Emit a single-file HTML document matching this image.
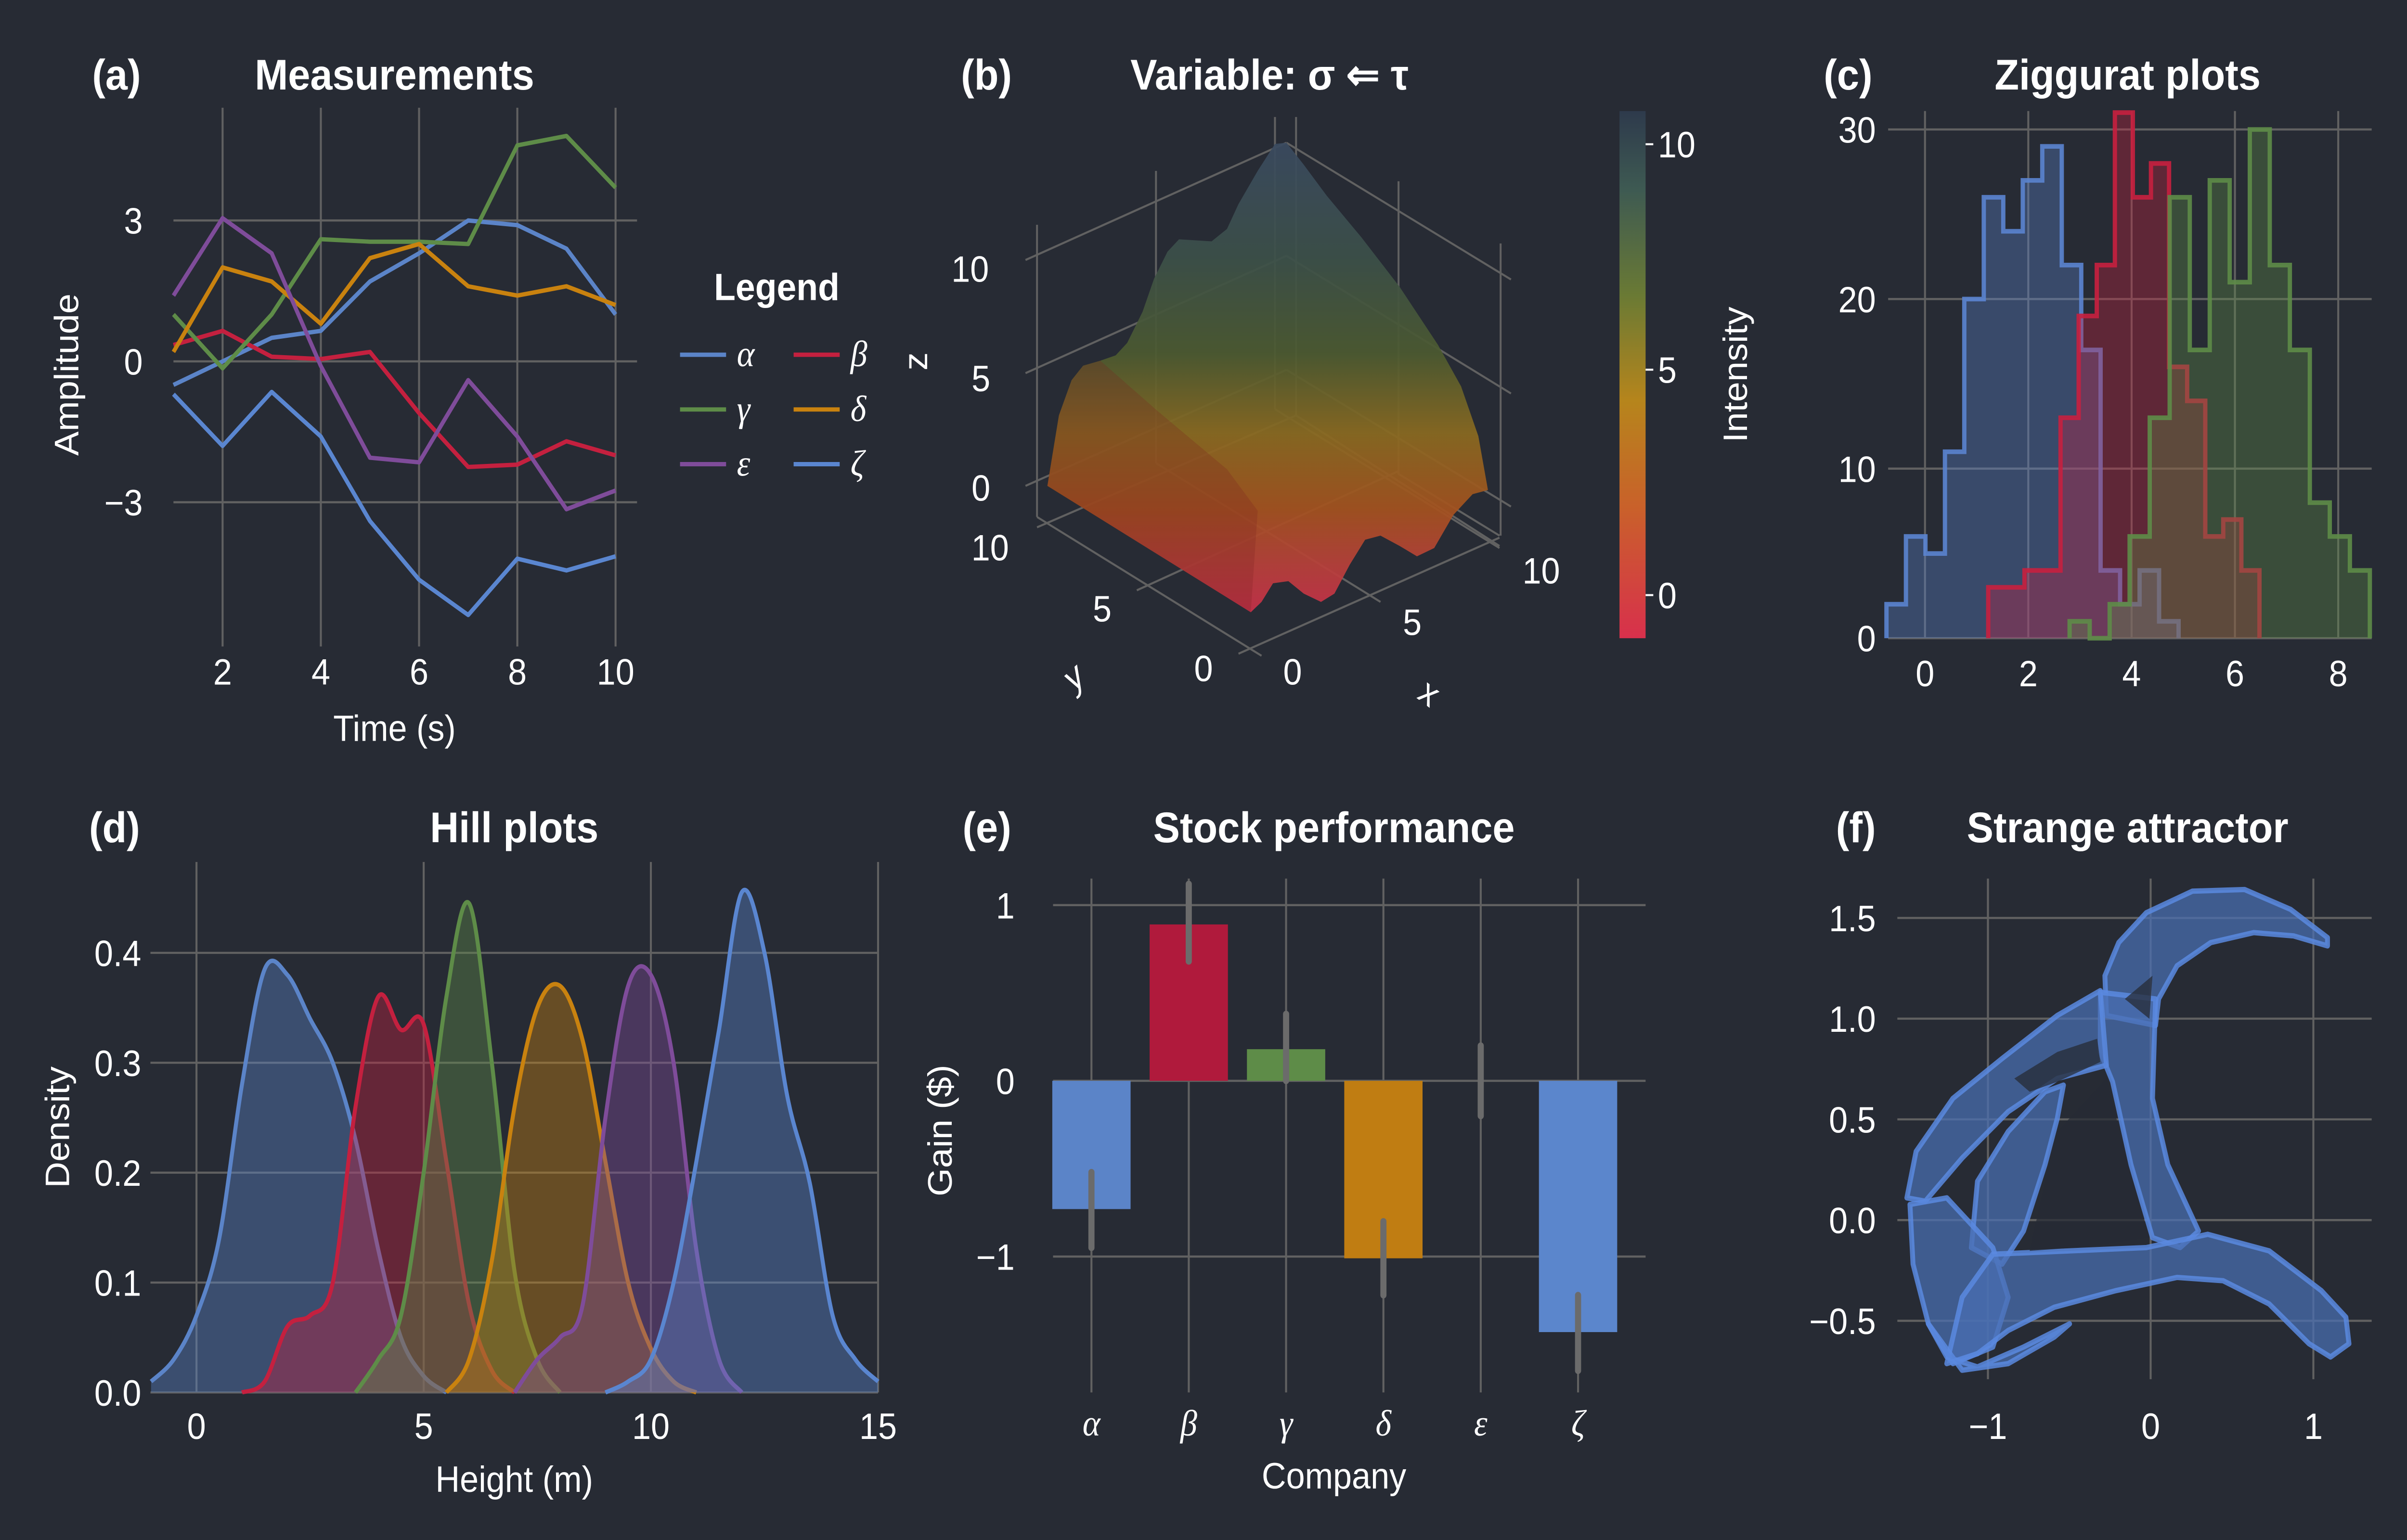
<!DOCTYPE html>
<html><head><meta charset="utf-8"><style>
html,body{margin:0;padding:0;background:#272b34;overflow:hidden;width:100%;height:100%;}
svg{display:block;position:absolute;left:0;top:0;width:100vw;height:100vh;}
text{font-family:"Liberation Sans",sans-serif;fill:#fff;}
text.serif{font-family:"Liberation Serif",serif;font-style:italic;}
</style></head><body>
<svg id="fig" xmlns="http://www.w3.org/2000/svg" viewBox="0 0 1568 929" preserveAspectRatio="none">
<rect x="0" y="0" width="1568" height="929" fill="#272b34"/>
<defs>
<linearGradient id="cbar" x1="0" y1="1" x2="0" y2="0">
<stop offset="0" stop-color="#d8304c"/><stop offset="0.25" stop-color="#c9612a"/><stop offset="0.45" stop-color="#b6851c"/><stop offset="0.65" stop-color="#6a7a34"/><stop offset="0.85" stop-color="#3e5a52"/><stop offset="1" stop-color="#2e3a4c"/>
</linearGradient>
<linearGradient id="surfg" gradientUnits="userSpaceOnUse" x1="0" y1="110" x2="0" y2="1245">
<stop offset="0" stop-color="#3a4a60"/><stop offset="0.25" stop-color="#3c5048"/><stop offset="0.45" stop-color="#4c5a30"/><stop offset="0.62" stop-color="#8a6a20"/><stop offset="0.78" stop-color="#a4521e"/><stop offset="0.9" stop-color="#b8403a"/><stop offset="1" stop-color="#c8304a"/>
</linearGradient>
</defs>

<g font-weight="bold" font-size="26">
<text x="60" y="54">(a)</text>
<text x="257" y="54" text-anchor="middle">Measurements</text>
<text x="626" y="54">(b)</text>
<text x="827" y="54" text-anchor="middle">Variable: σ ⇐ τ</text>
<text x="1188" y="54">(c)</text>
<text x="1386" y="54" text-anchor="middle">Ziggurat plots</text>
<text x="58" y="508">(d)</text>
<text x="335" y="508" text-anchor="middle">Hill plots</text>
<text x="627" y="508">(e)</text>
<text x="869" y="508" text-anchor="middle">Stock performance</text>
<text x="1196" y="508">(f)</text>
<text x="1386" y="508" text-anchor="middle">Strange attractor</text>
</g>

<g id="pa"></g>
<g id="pb"></g>
<g id="pc"></g>
<g id="pd"></g>
<g id="pe"></g>
<g id="pf"></g>
</svg>
<script>
// ===== Panel (a) data =====
const aTimes = [1,2,3,4,5,6,7,8,9,10];
const aAlpha = [-0.5,0.0,0.5,0.65,1.7,2.3,3.0,2.9,2.4,1.0];
const aBeta  = [0.35,0.65,0.1,0.05,0.2,-1.1,-2.25,-2.2,-1.7,-2.0];
const aGamma = [1.0,-0.15,1.0,2.6,2.55,2.55,2.5,4.6,4.8,3.7];
const aDelta = [0.2,2.0,1.7,0.8,2.2,2.5,1.6,1.4,1.6,1.2];
const aEps   = [1.4,3.05,2.3,-0.1,-2.05,-2.15,-0.4,-1.6,-3.15,-2.75];
const aZeta  = [-0.7,-1.8,-0.65,-1.6,-3.4,-4.65,-5.4,-4.2,-4.45,-4.15];
const aXTicks = [2,4,6,8,10];
const aYTicks = [3,0,-3];
const aYTickLabels = ["3","0","\u22123"];
// ===== Panel (b) colorbar ticks =====
const bCbTicks = [10,5,0];
// ===== Panel (c) data =====
const cBlueStart = -0.746, cBlueWidth = 0.377;
const cBlueCounts = [2,6,5,11,20,26,24,27,29,22,17,4,2,4,1];
const cRedStart = 1.225, cRedWidth = 0.35;
const cRedCounts = [3,3,4,4,13,19,22,31,26,28,16,14,6,7,4];
const cGreenStart = 2.80, cGreenWidth = 0.3875;
const cGreenCounts = [1,0,2,6,13,26,17,27,21,30,22,17,8,6,4];
const cXTicks = [0,2,4,6,8];
const cYTicks = [0,10,20,30];
// ===== Panel (d) data (density sampled every 0.5 m) =====
const dStarts = [-1,1.0,3.5,5.5,7.0,9.0];
const dBlue1  = [0.01,0.03,0.07,0.14,0.28,0.385,0.38,0.34,0.30,0.23,0.13,0.05,0.015,0.0];
const dRed    = [0.0,0.01,0.06,0.07,0.10,0.26,0.36,0.33,0.335,0.21,0.08,0.02,0.0];
const dGreen  = [0.0,0.03,0.07,0.20,0.36,0.445,0.30,0.11,0.03,0.0];
const dOrange = [0.0,0.03,0.12,0.26,0.35,0.37,0.32,0.21,0.10,0.04,0.01,0.0];
const dPurple = [0.0,0.03,0.05,0.08,0.25,0.37,0.38,0.30,0.13,0.03,0.0];
const dBlue2  = [0.0,0.01,0.03,0.10,0.21,0.33,0.455,0.40,0.27,0.19,0.07,0.03,0.01];
const dXTicks = [0,5,10,15];
const dYTicks = [0.0,0.1,0.2,0.3,0.4];
// ===== Panel (e) data =====
const eCompanies = ["\u03b1","\u03b2","\u03b3","\u03b4","\u03b5","\u03b6"];
const eGains = [-0.73,0.89,0.18,-1.01,0.0,-1.43];
const eErrLo = [-0.95,0.68,0.0,-1.22,-0.2,-1.65];
const eErrHi = [-0.52,1.12,0.38,-0.80,0.2,-1.22];
const eYTicks = [1,0,-1];
const eYTickLabels = ["1","0","\u22121"];
// ===== Panel (f) ticks =====
const fXTicks = [-1,0,1];
const fXTickLabels = ["\u22121","0","1"];
const fYTicks = [1.5,1.0,0.5,0.0,-0.5];
const fYTickLabels = ["1.5","1.0","0.5","0.0","\u22120.5"];

const NS = "http://www.w3.org/2000/svg";
function mk(parent, tag, attrs, text){
  const e = document.createElementNS(NS, tag);
  for (const k in attrs) e.setAttribute(k, attrs[k]);
  if (text !== undefined) e.textContent = text;
  parent.appendChild(e);
  return e;
}
const GRID = "#616161";

// ---------- Panel A ----------
(function(){
  const g = document.getElementById('pa');
  const X = t => 145 + (t-2)*32;
  const Y = v => 218 - v*28.33;
  aXTicks.forEach(t=>{
    const l = mk(g,'line',{x1:X(t),x2:X(t),y1:65,y2:390,stroke:GRID,'stroke-width':1.3});
     
    const tx = mk(g,'text',{x:X(t),y:413,'text-anchor':'middle','font-size':22},String(t));
     
  });
  aYTicks.forEach((v,i)=>{
    const l = mk(g,'line',{x1:113,x2:415,y1:Y(v),y2:Y(v),stroke:GRID,'stroke-width':1.3});
     
    const tx = mk(g,'text',{x:93,y:Y(v)+8,'text-anchor':'end','font-size':22},aYTickLabels[i]);
     
  });
  const xl = mk(g,'text',{x:257,y:447,'text-anchor':'middle','font-size':22},'Time (s)');
   
  const yl = mk(g,'text',{x:0,y:0,'text-anchor':'middle','font-size':22,transform:'translate(51,226) rotate(-90)'},'Amplitude');
   
  const series = [[aAlpha,'#5b84c8','alpha'],[aBeta,'#c4203f','beta'],[aGamma,'#5e8c48','gamma'],[aDelta,'#c9820f','delta'],[aEps,'#7f4c9a','epsilon'],[aZeta,'#5a86d0','zeta']];
  series.forEach(s=>{
    const d = s[0].map((v,i)=>(i?'L':'M')+X(aTimes[i]).toFixed(1)+','+Y(v).toFixed(1)).join(' ');
    const p = mk(g,'path',{d:d,fill:'none',stroke:s[1],'stroke-width':2.6,'stroke-linejoin':'round'});
     
  });
  const lt = mk(g,'text',{x:506,y:181,'text-anchor':'middle','font-size':23,'font-weight':'bold'},'Legend');
   
  const leg = [['\u03b1','#5b84c8',443,214],['\u03b2','#c4203f',517,214],['\u03b3','#5e8c48',443,247],['\u03b4','#c9820f',517,247],['\u03b5','#7f4c9a',443,280],['\u03b6','#5a86d0',517,280]];
  leg.forEach(e=>{
    const l = mk(g,'line',{x1:e[2],x2:e[2]+30,y1:e[3],y2:e[3],stroke:e[1],'stroke-width':2.6});
     
    const t = mk(g,'text',{x:e[2]+37,y:e[3]+7,'font-size':22,'class':'serif'},e[0]);
     
  });
})();

// ---------- Panel B ----------
(function(){
  const g = document.getElementById('pb');
  const z = mk(g,'g',{transform:'translate(624.3,58.1) scale(0.25)'});
   
  const gl = [
    [175,395,855,112],[855,112,1440,442],[175,668,855,385],[855,385,1440,717],[175,940,855,660],[855,660,1440,990],
    [205,310,205,1015],[515,180,515,885],[825,50,825,755],[880,50,880,770],[1147,205,1147,910],[1413,355,1413,1060],
    [205,1015,790,1350],[730,1345,1410,1065],[515,885,1100,1220],[825,755,1410,1090],[205,1040,880,770],[465,1192,1145,905],[880,770,1410,1085],[1145,910,1410,1060]
  ];
  gl.forEach(c=>{
    const l = mk(z,'line',{x1:c[0],y1:c[1],x2:c[2],y2:c[3],stroke:GRID,'stroke-width':5});
     
  });
  const pts = "232,940 262,770 295,685 325,650 370,638 410,625 440,595 480,520 510,440 545,375 575,345 660,350 700,320 730,260 780,180 825,115 855,112 900,165 960,240 1050,340 1150,460 1250,600 1310,700 1355,820 1380,950 1340,960 1290,1010 1240,1090 1195,1110 1150,1085 1100,1060 1060,1070 1020,1130 980,1200 945,1220 900,1200 860,1170 820,1175 790,1220 762,1245";
  const s = mk(z,'polygon',{points:pts,fill:'url(#surfg)','fill-opacity':0.93});
   
  const sh = mk(z,'polygon',{points:"232,940 262,770 295,685 325,650 370,638 520,760 700,900 780,1000 762,1245",fill:'#7a1f1f','fill-opacity':0.25});
   
  const ticks = [['10',632,170],['5',639,236],['0',639,302],['10',645,338],['5',718,375],['0',784,411],['0',842,413],['5',920,383],['10',1004,352]];
  ticks.forEach(t=>{
    const tx = mk(g,'text',{x:t[1],y:t[2],'text-anchor':'middle','font-size':22},t[0]);
     
  });
  const zl = mk(g,'text',{'font-size':22,'text-anchor':'middle',transform:'translate(604,218) rotate(-90)'},'z');
   
  const yl = mk(g,'text',{'font-size':22,'text-anchor':'middle',transform:'translate(704,414) rotate(-40)','font-style':'italic'},'y');
   
  const xl = mk(g,'text',{'font-size':22,'text-anchor':'middle',transform:'translate(927,424) rotate(35)'},'x');
   
  const cb = mk(g,'rect',{x:1055,y:67,width:17,height:318,fill:'url(#cbar)'});
   
  const CY = v => 359 - v*27.2;
  bCbTicks.forEach(v=>{
    const l = mk(g,'line',{x1:1072,x2:1077,y1:CY(v),y2:CY(v),stroke:'#fff','stroke-width':1.2});
     
    const t = mk(g,'text',{x:1080,y:CY(v)+8,'font-size':22},String(v));
     
  });
  const il = mk(g,'text',{'font-size':22,'text-anchor':'middle',transform:'translate(1138,226) rotate(-90)'},'Intensity');
   
})();

// ---------- Panel C ----------
(function(){
  const g = document.getElementById('pc');
  const X = v => 1254 + v*33.65;
  const Y = c => 385 - c*10.23;
  cXTicks.forEach(t=>{
    const l = mk(g,'line',{x1:X(t),x2:X(t),y1:67,y2:385,stroke:GRID,'stroke-width':1.3});
     
    const tx = mk(g,'text',{x:X(t),y:414,'text-anchor':'middle','font-size':22},String(t));
     
  });
  cYTicks.forEach(v=>{
    const l = mk(g,'line',{x1:1230,x2:1545,y1:Y(v),y2:Y(v),stroke:GRID,'stroke-width':1.3});
     
    const tx = mk(g,'text',{x:1222,y:Y(v)+8,'text-anchor':'end','font-size':22},String(v));
     
  });
  function hist(start,w,counts,col,name){
    let d = 'M'+X(start).toFixed(1)+','+Y(0).toFixed(1);
    counts.forEach((c,i)=>{ d += ' V'+Y(c).toFixed(1)+' H'+X(start+(i+1)*w).toFixed(1); });
    d += ' V'+Y(0).toFixed(1);
    const f = mk(g,'path',{d:d+' Z',fill:col,'fill-opacity':0.35,stroke:'none'});
     
    const o = mk(g,'path',{d:d,fill:'none',stroke:col,'stroke-width':2.8,'stroke-opacity':0.9});
     
  }
  hist(cBlueStart,cBlueWidth,cBlueCounts,'#5b84d0','blue');
  hist(cRedStart,cRedWidth,cRedCounts,'#c8203f','red');
  hist(cGreenStart,cGreenWidth,cGreenCounts,'#5e8c48','green');
})();

// ---------- Panel D ----------
(function(){
  const g = document.getElementById('pd');
  const X = v => 128 + v*29.6;
  const Y = v => 840 - v*663;
  dXTicks.forEach(t=>{
    const l = mk(g,'line',{x1:X(t),x2:X(t),y1:520,y2:840,stroke:GRID,'stroke-width':1.3});
     
    const tx = mk(g,'text',{x:X(t),y:868,'text-anchor':'middle','font-size':22},String(t));
     
  });
  dYTicks.forEach(v=>{
    const l = mk(g,'line',{x1:98,x2:572,y1:Y(v),y2:Y(v),stroke:GRID,'stroke-width':1.3});
     
    const tx = mk(g,'text',{x:92,y:Y(v)+8,'text-anchor':'end','font-size':22},v.toFixed(1));
     
  });
  const xl = mk(g,'text',{x:335,y:900,'text-anchor':'middle','font-size':22},'Height (m)');
   
  const yl = mk(g,'text',{'text-anchor':'middle','font-size':22,transform:'translate(45,680) rotate(-90)'},'Density');
   
  function smooth(p){
    let d = 'M'+p[0][0].toFixed(1)+','+p[0][1].toFixed(1);
    for (let i=0;i<p.length-1;i++){
      const p0=p[Math.max(0,i-1)],p1=p[i],p2=p[i+1],p3=p[Math.min(p.length-1,i+2)];
      const c1=[p1[0]+(p2[0]-p0[0])/6,p1[1]+(p2[1]-p0[1])/6];
      const c2=[p2[0]-(p3[0]-p1[0])/6,p2[1]-(p3[1]-p1[1])/6];
      d+=' C'+c1[0].toFixed(1)+','+Math.min(840,c1[1]).toFixed(1)+' '+c2[0].toFixed(1)+','+Math.min(840,c2[1]).toFixed(1)+' '+p2[0].toFixed(1)+','+p2[1].toFixed(1);
    }
    return d;
  }
  const series = [[dBlue1,0,'#5b84c8','blue-1'],[dRed,1,'#c4203f','red'],[dGreen,2,'#5e8c48','green'],[dOrange,3,'#c9820f','orange'],[dPurple,4,'#7f4c9a','purple'],[dBlue2,5,'#5a86d0','blue-2']];
  series.forEach(s=>{
    const st = dStarts[s[1]];
    const pts = s[0].map((v,i)=>[Math.max(X(-1),Math.min(X(15),X(st+i*0.5))),Y(v)]);
    const d = smooth(pts);
    const f = mk(g,'path',{d:d+' L'+pts[pts.length-1][0]+',840 L'+pts[0][0]+',840 Z',fill:s[2],'fill-opacity':0.4});
     
    const o = mk(g,'path',{d:d,fill:'none',stroke:s[2],'stroke-width':2.6});
     
  });
})();

// ---------- Panel E ----------
(function(){
  const g = document.getElementById('pe');
  const X = i => 711 + i*63.4;
  const Y = v => 652 - v*106;
  const cols = ['#5b84c8','#b01a3c','#5e8c48','#c07d12','#7f4c9a','#5b86cc'];
  eCompanies.forEach((c,i)=>{
    const l = mk(g,'line',{x1:X(i),x2:X(i),y1:530,y2:840,stroke:GRID,'stroke-width':1.3});
     
    const tx = mk(g,'text',{x:X(i),y:866,'text-anchor':'middle','font-size':22,'class':'serif'},c);
     
  });
  eYTicks.forEach((v,i)=>{
    const l = mk(g,'line',{x1:686,x2:1072,y1:Y(v),y2:Y(v),stroke:GRID,'stroke-width':1.3});
     
    const tx = mk(g,'text',{x:661,y:Y(v)+8,'text-anchor':'end','font-size':22},eYTickLabels[i]);
     
  });
  eGains.forEach((v,i)=>{
    const r = mk(g,'rect',{x:X(i)-25.5,y:Math.min(Y(v),Y(0)),width:51,height:Math.abs(Y(v)-Y(0)),fill:cols[i]});
     
    const e = mk(g,'line',{x1:X(i),x2:X(i),y1:Y(eErrLo[i]),y2:Y(eErrHi[i]),stroke:'#6b6b6b','stroke-width':4,'stroke-linecap':'round'});
     
  });
  const xl = mk(g,'text',{x:869,y:898,'text-anchor':'middle','font-size':22},'Company');
   
  const yl = mk(g,'text',{'text-anchor':'middle','font-size':22,transform:'translate(620,682) rotate(-90)'},'Gain ($)');
   
})();

// ---------- Panel F ----------
(function(){
  const g = document.getElementById('pf');
  const X = v => 1401 + v*106;
  const Y = v => 736 - v*121.5;
  fXTicks.forEach((t,i)=>{
    const l = mk(g,'line',{x1:X(t),x2:X(t),y1:530,y2:832,stroke:GRID,'stroke-width':1.3});
     
    const tx = mk(g,'text',{x:X(t),y:868,'text-anchor':'middle','font-size':22},fXTickLabels[i]);
     
  });
  fYTicks.forEach((v,i)=>{
    const l = mk(g,'line',{x1:1236,x2:1545,y1:Y(v),y2:Y(v),stroke:GRID,'stroke-width':1.3});
     
    const tx = mk(g,'text',{x:1222,y:Y(v)+8,'text-anchor':'end','font-size':22},fYTickLabels[i]);
     
  });
  const z = mk(g,'g',{transform:'translate(1228.2,522.6) scale(0.2)',fill:'#4a6fb3','fill-opacity':0.72,stroke:'#5b8ae0','stroke-width':16,'stroke-opacity':0.85,'stroke-linejoin':'round'});
   
  const polys = [
    "715,330 760,230 850,140 1000,75 1170,70 1320,130 1440,215 1440,240 1330,210 1200,200 1060,230 950,300 890,400 880,480 720,450",
    "700,380 880,400 870,700 920,900 1020,1100 960,1150 870,1120 800,900 740,650 700,560",
    "700,375 560,450 380,580 220,700 100,860 70,1000 130,1010 250,880 400,740 560,640 720,600",
    "580,660 520,680 400,800 300,950 280,1150 380,1200 450,1100 520,900 560,760",
    "80,1020 200,1000 350,1150 400,1300 350,1450 220,1500 140,1380 90,1200",
    "350,1170 600,1160 850,1150 1050,1110 1250,1160 1420,1280 1500,1360 1510,1440 1450,1480 1380,1440 1250,1320 1100,1250 950,1240 750,1280 550,1330 400,1400 300,1470 200,1500 250,1300",
    "140,1380 200,1480 300,1510 450,1450 600,1380 550,1420 400,1500 250,1520"
  ];
  polys.forEach(p=>{
    const e = mk(z,'polygon',{points:p});
     
  });
  const holes = ["420,640 560,560 690,520 700,590 560,650 470,680","560,800 720,640 790,900 860,1120 620,1150 470,1160 520,950","780,400 870,330 860,460"];
  holes.forEach(p=>{
    const e = mk(z,'polygon',{points:p,fill:'#272b34','fill-opacity':0.75,stroke:'none'});
     
  });
})();
</script>
</body></html>
